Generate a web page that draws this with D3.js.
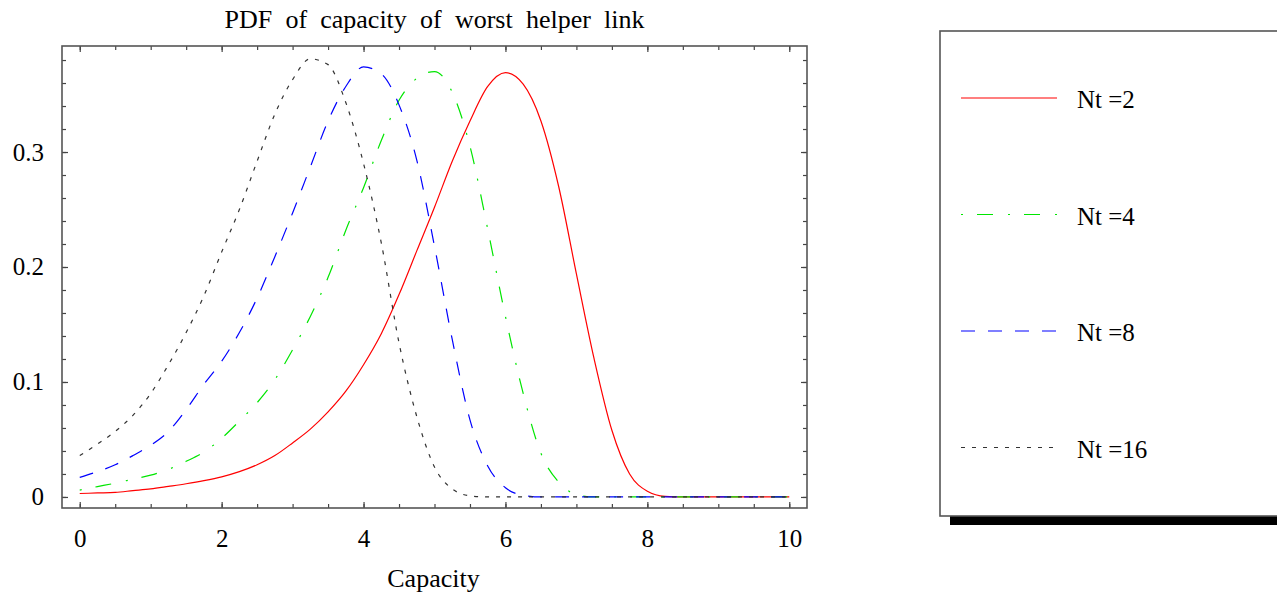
<!DOCTYPE html>
<html>
<head>
<meta charset="utf-8">
<script src="https://cdn.jsdelivr.net/npm/d3@7"></script>
<style>
  body { margin: 0; background: #fff; }
  text { font-family: "Liberation Serif", "Times New Roman", serif; fill: #000; }
</style>
</head>
<body>
<svg id="chart" width="1277" height="593"></svg>
<script>
// shared x grid (capacity), step 0.25
var capacity = d3.range(0, 10.001, 0.25);

var pdfNt2 = [0.003, 0.0035, 0.004, 0.0055, 0.007, 0.0092, 0.0115, 0.0142, 0.0175, 0.022,
  0.028, 0.036, 0.047, 0.059, 0.074, 0.092, 0.115, 0.142, 0.176, 0.214,
  0.252, 0.292, 0.327, 0.357, 0.369, 0.359, 0.327, 0.27, 0.194, 0.12,
  0.058, 0.02, 0.005, 0.0005, 0, 0, 0, 0, 0, 0, 0];
var pdfNt4 = [0.006, 0.009, 0.012, 0.0155, 0.019, 0.024, 0.031, 0.039, 0.051, 0.066,
  0.082, 0.102, 0.128, 0.157, 0.191, 0.232, 0.269, 0.31, 0.345, 0.364,
  0.37, 0.352, 0.305, 0.233, 0.157, 0.09, 0.038, 0.013, 0.002, 0,
  0, 0, 0, 0, 0, 0, 0, 0, 0, 0, 0];
var pdfNt8 = [0.017, 0.022, 0.028, 0.036, 0.045, 0.057, 0.076, 0.098, 0.118, 0.143,
  0.173, 0.209, 0.247, 0.287, 0.327, 0.357, 0.374, 0.368, 0.341, 0.293,
  0.218, 0.137, 0.067, 0.027, 0.008, 0.0015, 0, 0, 0, 0,
  0, 0, 0, 0, 0, 0, 0, 0, 0, 0, 0];
var pdfNt16 = [0.036, 0.046, 0.057, 0.071, 0.09, 0.115, 0.143, 0.175, 0.213, 0.25,
  0.292, 0.333, 0.363, 0.381, 0.376, 0.343, 0.29, 0.221, 0.134, 0.07,
  0.026, 0.007, 0.001, 0, 0, 0, 0, 0, 0, 0,
  0, 0, 0, 0, 0, 0, 0, 0, 0, 0, 0];

var seriesNames = ["Nt =2", "Nt =4", "Nt =8", "Nt =16"];
var seriesValues = [pdfNt2, pdfNt4, pdfNt8, pdfNt16];
var seriesColors = ["#ff0000", "#00e600", "#0000ff", "#333333"];
var seriesDashes = [null, "2,14,16,15", "14,13", "4,7"];

var xMajor = [0, 2, 4, 6, 8, 10];
var xMinor = d3.range(0, 10.001, 0.5);
var yMajor = [0, 0.1, 0.2, 0.3];
var yMinor = d3.range(0, 0.381, 0.02);

var svg = d3.select("#chart");
var frame = {left: 62, right: 807, top: 46, bottom: 508};

var x = d3.scaleLinear().domain([-0.25, 10.25]).range([frame.left, frame.right]);
var y = d3.scaleLinear().domain([-0.0096, 0.3922]).range([frame.bottom, frame.top]);

svg.append("text")
    .attr("x", (frame.left + frame.right) / 2)
    .attr("y", 28)
    .attr("text-anchor", "middle")
    .style("font-size", "26px")
    .style("word-spacing", "6.7px")
    .text("PDF of capacity of worst helper link");

// ticks on all four sides, pointing inward
function styleAxis(g) {
  g.select(".domain").remove();
  g.selectAll("line").attr("stroke", "#444").attr("stroke-width", 1.2);
  g.selectAll("text").style("font-size", "25px").attr("font-family", null);
}

svg.append("g").attr("transform", "translate(0," + frame.bottom + ")")
    .call(d3.axisBottom(x).tickValues(xMinor).tickSize(-4).tickFormat(""))
    .call(styleAxis);
svg.append("g").attr("transform", "translate(0," + frame.bottom + ")")
    .call(d3.axisBottom(x).tickValues(xMajor).tickSize(-6).tickPadding(21).tickFormat(d3.format("d")))
    .call(styleAxis);
svg.append("g").attr("transform", "translate(0," + frame.top + ")")
    .call(d3.axisTop(x).tickValues(xMinor).tickSize(-4).tickFormat(""))
    .call(styleAxis);
svg.append("g").attr("transform", "translate(0," + frame.top + ")")
    .call(d3.axisTop(x).tickValues(xMajor).tickSize(-6).tickFormat(""))
    .call(styleAxis);

svg.append("g").attr("transform", "translate(" + frame.left + ",0)")
    .call(d3.axisLeft(y).tickValues(yMinor).tickSize(-4).tickFormat(""))
    .call(styleAxis);
svg.append("g").attr("transform", "translate(" + frame.left + ",0)")
    .call(d3.axisLeft(y).tickValues(yMajor).tickSize(-6).tickPadding(18)
      .tickFormat(function(d) { return d === 0 ? "0" : d3.format(".1f")(d); }))
    .call(styleAxis);
svg.append("g").attr("transform", "translate(" + frame.right + ",0)")
    .call(d3.axisRight(y).tickValues(yMinor).tickSize(-4).tickFormat(""))
    .call(styleAxis);
svg.append("g").attr("transform", "translate(" + frame.right + ",0)")
    .call(d3.axisRight(y).tickValues(yMajor).tickSize(-6).tickFormat(""))
    .call(styleAxis);

svg.append("rect")
    .attr("x", frame.left).attr("y", frame.top)
    .attr("width", frame.right - frame.left).attr("height", frame.bottom - frame.top)
    .attr("fill", "none").attr("stroke", "#555").attr("stroke-width", 1.6);

svg.append("text")
    .attr("x", (frame.left + frame.right) / 2 - 1)
    .attr("y", 587)
    .attr("text-anchor", "middle")
    .style("font-size", "26px")
    .text("Capacity");

var line = d3.line()
    .x(function(d, i) { return x(capacity[i]); })
    .y(function(d) { return y(d); })
    .curve(d3.curveMonotoneX);

svg.append("g").selectAll("path")
    .data(seriesValues)
  .enter().append("path")
    .attr("d", line)
    .attr("fill", "none")
    .attr("stroke", function(d, i) { return seriesColors[i]; })
    .attr("stroke-width", 1.2)
    .attr("stroke-dasharray", function(d, i) { return seriesDashes[i]; });

// legend box with drop shadow
svg.append("rect")
    .attr("x", 950).attr("y", 516).attr("width", 340).attr("height", 9)
    .attr("fill", "#000");
svg.append("rect")
    .attr("x", 940).attr("y", 31).attr("width", 350).attr("height", 485)
    .attr("fill", "#fff").attr("stroke", "#555").attr("stroke-width", 1.6);

var legend = svg.append("g").selectAll("g")
    .data(seriesNames)
  .enter().append("g")
    .attr("transform", function(d, i) { return "translate(0," + (98 + i * 116.5) + ")"; });

legend.append("line")
    .attr("x1", 961).attr("x2", 1057)
    .attr("stroke", function(d, i) { return seriesColors[i]; })
    .attr("stroke-width", 1.2)
    .attr("stroke-dasharray", function(d, i) { return seriesDashes[i]; });

legend.append("text")
    .attr("x", 1077)
    .attr("y", 10)
    .style("font-size", "25px")
    .text(function(d) { return d; });
</script>
</body>
</html>
